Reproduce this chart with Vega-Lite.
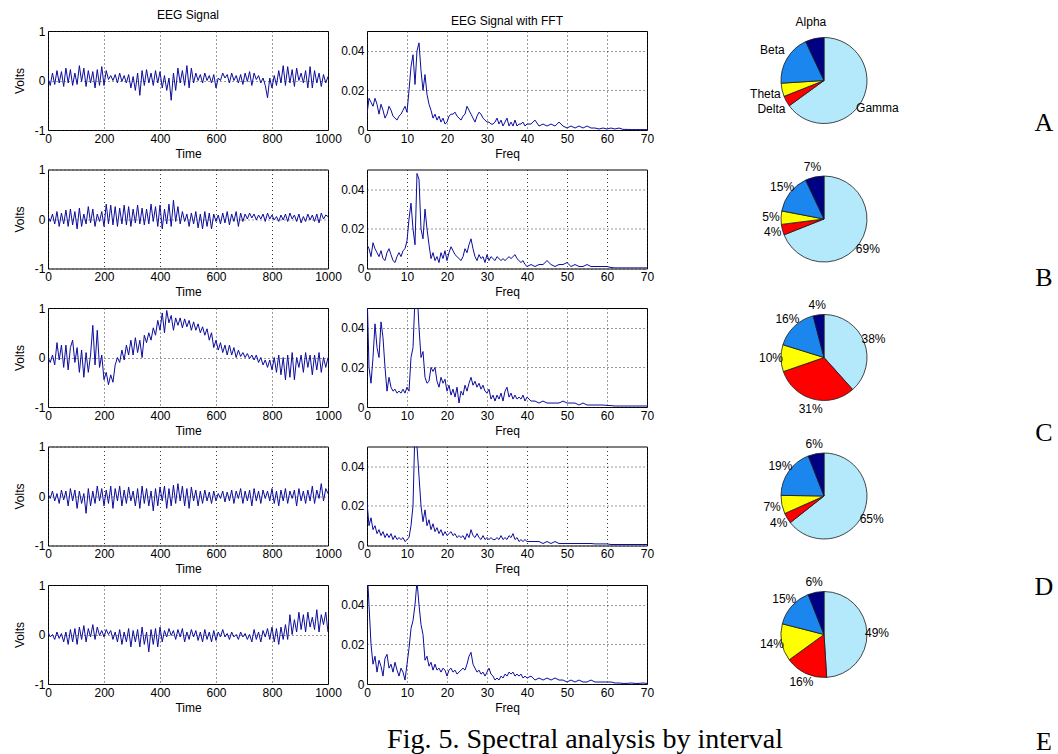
{
"$schema":"https://vega.github.io/schema/vega-lite/v6.json",
"background":"white",
"padding":{"left":12,"top":8,"right":0,"bottom":0},
"config":{
 "font":"Liberation Sans",
 "view":{"stroke":"#000","strokeWidth":1},
 "axis":{"labelFont":"Liberation Sans","labelFontSize":12,"labelColor":"#000","titleFont":"Liberation Sans","titleFontSize":12,"titleFontWeight":"normal","titleColor":"#000","domain":false,"ticks":false,"labelPadding":3,"grid":true,"gridColor":"#222","gridDash":[1,3],"gridOpacity":0.9,"gridWidth":1,"labelFlush":false,"labelOverlap":false},
 "axisX":{"titlePadding":4},
 "axisY":{"titlePadding":8},
 "title":{"font":"Liberation Sans","fontSize":12,"fontWeight":"normal","color":"#000"}
},
"datasets":{
"eegA":[{"t":0,"v":0.05},{"t":8,"v":-0.1},{"t":16,"v":0.15},{"t":24,"v":-0.08},{"t":32,"v":0.2},{"t":40,"v":-0.05},{"t":48,"v":0.18},{"t":56,"v":-0.12},{"t":64,"v":0.25},{"t":72,"v":-0.05},{"t":80,"v":0.22},{"t":88,"v":-0.1},{"t":96,"v":0.15},{"t":104,"v":-0.08},{"t":112,"v":0.3},{"t":120,"v":-0.02},{"t":128,"v":0.25},{"t":136,"v":-0.12},{"t":144,"v":0.2},{"t":152,"v":-0.05},{"t":160,"v":0.18},{"t":168,"v":-0.15},{"t":176,"v":0.22},{"t":184,"v":-0.1},{"t":192,"v":0.28},{"t":200,"v":-0.1},{"t":208,"v":0.2},{"t":216,"v":0.02},{"t":224,"v":0.1},{"t":232,"v":0.0},{"t":240,"v":0.12},{"t":248,"v":-0.05},{"t":256,"v":0.15},{"t":264,"v":-0.02},{"t":272,"v":0.1},{"t":280,"v":-0.05},{"t":288,"v":0.12},{"t":296,"v":-0.15},{"t":304,"v":0.08},{"t":312,"v":-0.2},{"t":320,"v":0.15},{"t":328,"v":-0.3},{"t":336,"v":0.2},{"t":344,"v":-0.1},{"t":352,"v":0.22},{"t":360,"v":-0.05},{"t":368,"v":0.15},{"t":376,"v":-0.1},{"t":384,"v":0.2},{"t":392,"v":-0.05},{"t":400,"v":0.18},{"t":408,"v":-0.15},{"t":416,"v":0.1},{"t":424,"v":-0.2},{"t":432,"v":0.05},{"t":440,"v":-0.4},{"t":448,"v":0.15},{"t":456,"v":-0.2},{"t":464,"v":0.25},{"t":472,"v":-0.05},{"t":480,"v":0.2},{"t":488,"v":-0.1},{"t":496,"v":0.3},{"t":504,"v":-0.15},{"t":512,"v":0.25},{"t":520,"v":-0.05},{"t":528,"v":0.15},{"t":536,"v":0.0},{"t":544,"v":0.12},{"t":552,"v":-0.05},{"t":560,"v":0.15},{"t":568,"v":0.0},{"t":576,"v":0.1},{"t":584,"v":-0.05},{"t":592,"v":0.12},{"t":600,"v":-0.15},{"t":608,"v":0.05},{"t":616,"v":0.0},{"t":624,"v":0.15},{"t":632,"v":0.05},{"t":640,"v":0.12},{"t":648,"v":-0.05},{"t":656,"v":0.15},{"t":664,"v":0.0},{"t":672,"v":0.1},{"t":680,"v":-0.05},{"t":688,"v":0.12},{"t":696,"v":-0.08},{"t":704,"v":0.15},{"t":712,"v":-0.02},{"t":720,"v":0.18},{"t":728,"v":-0.1},{"t":736,"v":0.15},{"t":744,"v":0.02},{"t":752,"v":0.1},{"t":760,"v":-0.05},{"t":768,"v":0.05},{"t":776,"v":-0.1},{"t":784,"v":-0.35},{"t":792,"v":0.05},{"t":800,"v":-0.15},{"t":808,"v":0.1},{"t":816,"v":-0.1},{"t":824,"v":0.2},{"t":832,"v":-0.05},{"t":840,"v":0.3},{"t":848,"v":-0.1},{"t":856,"v":0.28},{"t":864,"v":-0.05},{"t":872,"v":0.22},{"t":880,"v":-0.12},{"t":888,"v":0.25},{"t":896,"v":0.0},{"t":904,"v":0.15},{"t":912,"v":-0.05},{"t":920,"v":0.2},{"t":928,"v":-0.15},{"t":936,"v":0.28},{"t":944,"v":-0.15},{"t":952,"v":0.2},{"t":960,"v":-0.05},{"t":968,"v":0.15},{"t":976,"v":-0.12},{"t":984,"v":0.12},{"t":992,"v":-0.05},{"t":1000,"v":0.08}],
"eegB":[{"t":0,"v":0.05},{"t":8,"v":-0.05},{"t":16,"v":0.1},{"t":24,"v":-0.1},{"t":32,"v":0.15},{"t":40,"v":-0.15},{"t":48,"v":0.12},{"t":56,"v":-0.1},{"t":64,"v":0.18},{"t":72,"v":-0.15},{"t":80,"v":0.2},{"t":88,"v":-0.12},{"t":96,"v":0.15},{"t":104,"v":-0.2},{"t":112,"v":0.22},{"t":120,"v":-0.15},{"t":128,"v":0.1},{"t":136,"v":-0.1},{"t":144,"v":0.25},{"t":152,"v":-0.08},{"t":160,"v":0.2},{"t":168,"v":-0.15},{"t":176,"v":0.1},{"t":184,"v":-0.05},{"t":192,"v":0.15},{"t":200,"v":-0.15},{"t":208,"v":0.3},{"t":216,"v":-0.1},{"t":224,"v":0.28},{"t":232,"v":-0.12},{"t":240,"v":0.25},{"t":248,"v":-0.15},{"t":256,"v":0.22},{"t":264,"v":-0.1},{"t":272,"v":0.28},{"t":280,"v":-0.12},{"t":288,"v":0.25},{"t":296,"v":-0.15},{"t":304,"v":0.2},{"t":312,"v":-0.08},{"t":320,"v":0.28},{"t":328,"v":-0.1},{"t":336,"v":0.22},{"t":344,"v":-0.12},{"t":352,"v":0.2},{"t":360,"v":-0.1},{"t":368,"v":0.3},{"t":376,"v":-0.05},{"t":384,"v":0.25},{"t":392,"v":-0.15},{"t":400,"v":0.28},{"t":408,"v":-0.2},{"t":416,"v":0.2},{"t":424,"v":-0.1},{"t":432,"v":0.3},{"t":440,"v":-0.15},{"t":448,"v":0.38},{"t":456,"v":-0.05},{"t":464,"v":0.25},{"t":472,"v":-0.1},{"t":480,"v":0.15},{"t":488,"v":-0.05},{"t":496,"v":0.1},{"t":504,"v":-0.15},{"t":512,"v":0.12},{"t":520,"v":-0.1},{"t":528,"v":0.15},{"t":536,"v":-0.18},{"t":544,"v":0.1},{"t":552,"v":-0.2},{"t":560,"v":0.15},{"t":568,"v":-0.15},{"t":576,"v":0.12},{"t":584,"v":-0.2},{"t":592,"v":0.1},{"t":600,"v":-0.05},{"t":608,"v":0.08},{"t":616,"v":-0.1},{"t":624,"v":0.12},{"t":632,"v":-0.08},{"t":640,"v":0.15},{"t":648,"v":-0.12},{"t":656,"v":0.1},{"t":664,"v":-0.05},{"t":672,"v":0.15},{"t":680,"v":-0.15},{"t":688,"v":0.12},{"t":696,"v":-0.05},{"t":704,"v":0.1},{"t":712,"v":0.0},{"t":720,"v":0.12},{"t":728,"v":0.02},{"t":736,"v":0.1},{"t":744,"v":-0.02},{"t":752,"v":0.08},{"t":760,"v":0.0},{"t":768,"v":0.1},{"t":776,"v":-0.05},{"t":784,"v":0.12},{"t":792,"v":0.0},{"t":800,"v":0.08},{"t":808,"v":-0.02},{"t":816,"v":0.05},{"t":824,"v":-0.05},{"t":832,"v":0.08},{"t":840,"v":-0.02},{"t":848,"v":0.1},{"t":856,"v":-0.05},{"t":864,"v":0.12},{"t":872,"v":0.0},{"t":880,"v":0.08},{"t":888,"v":-0.05},{"t":896,"v":0.1},{"t":904,"v":-0.08},{"t":912,"v":0.05},{"t":920,"v":-0.05},{"t":928,"v":0.1},{"t":936,"v":-0.02},{"t":944,"v":0.08},{"t":952,"v":-0.05},{"t":960,"v":0.1},{"t":968,"v":-0.08},{"t":976,"v":0.12},{"t":984,"v":0.0},{"t":992,"v":0.08},{"t":1000,"v":0.05}],
"eegC":[{"t":0,"v":0.0},{"t":8,"v":-0.1},{"t":16,"v":0.05},{"t":24,"v":-0.15},{"t":32,"v":0.3},{"t":40,"v":-0.05},{"t":48,"v":0.25},{"t":56,"v":-0.2},{"t":64,"v":0.25},{"t":72,"v":-0.25},{"t":80,"v":0.2},{"t":88,"v":0.35},{"t":96,"v":-0.1},{"t":104,"v":0.2},{"t":112,"v":-0.3},{"t":120,"v":0.15},{"t":128,"v":-0.4},{"t":136,"v":0.1},{"t":144,"v":-0.3},{"t":152,"v":0.05},{"t":160,"v":0.65},{"t":168,"v":-0.15},{"t":176,"v":0.55},{"t":184,"v":-0.2},{"t":192,"v":0.05},{"t":200,"v":-0.45},{"t":208,"v":-0.3},{"t":216,"v":-0.55},{"t":224,"v":-0.35},{"t":232,"v":-0.5},{"t":240,"v":-0.15},{"t":248,"v":0.0},{"t":256,"v":-0.1},{"t":264,"v":0.15},{"t":272,"v":-0.05},{"t":280,"v":0.25},{"t":288,"v":0.05},{"t":296,"v":0.35},{"t":304,"v":0.05},{"t":312,"v":0.4},{"t":320,"v":0.1},{"t":328,"v":0.35},{"t":336,"v":0.0},{"t":344,"v":0.45},{"t":352,"v":0.3},{"t":360,"v":0.5},{"t":368,"v":0.35},{"t":376,"v":0.6},{"t":384,"v":0.45},{"t":392,"v":0.75},{"t":400,"v":0.55},{"t":408,"v":0.9},{"t":416,"v":0.5},{"t":424,"v":0.95},{"t":432,"v":0.7},{"t":440,"v":0.85},{"t":448,"v":0.55},{"t":456,"v":0.8},{"t":464,"v":0.65},{"t":472,"v":0.8},{"t":480,"v":0.6},{"t":488,"v":0.78},{"t":496,"v":0.62},{"t":504,"v":0.75},{"t":512,"v":0.55},{"t":520,"v":0.72},{"t":528,"v":0.55},{"t":536,"v":0.68},{"t":544,"v":0.5},{"t":552,"v":0.62},{"t":560,"v":0.45},{"t":568,"v":0.58},{"t":576,"v":0.35},{"t":584,"v":0.5},{"t":592,"v":0.2},{"t":600,"v":0.35},{"t":608,"v":0.15},{"t":616,"v":0.3},{"t":624,"v":0.1},{"t":632,"v":0.25},{"t":640,"v":0.05},{"t":648,"v":0.25},{"t":656,"v":0.05},{"t":664,"v":0.2},{"t":672,"v":0.0},{"t":680,"v":0.15},{"t":688,"v":0.02},{"t":696,"v":0.1},{"t":704,"v":0.0},{"t":712,"v":0.08},{"t":720,"v":-0.02},{"t":728,"v":0.05},{"t":736,"v":-0.05},{"t":744,"v":0.05},{"t":752,"v":-0.1},{"t":760,"v":0.0},{"t":768,"v":-0.15},{"t":776,"v":-0.05},{"t":784,"v":-0.2},{"t":792,"v":-0.05},{"t":800,"v":-0.25},{"t":808,"v":0.0},{"t":816,"v":-0.3},{"t":824,"v":0.05},{"t":832,"v":-0.35},{"t":840,"v":0.0},{"t":848,"v":-0.45},{"t":856,"v":0.05},{"t":864,"v":-0.4},{"t":872,"v":0.1},{"t":880,"v":-0.45},{"t":888,"v":0.0},{"t":896,"v":-0.2},{"t":904,"v":0.05},{"t":912,"v":-0.3},{"t":920,"v":0.1},{"t":928,"v":-0.2},{"t":936,"v":0.05},{"t":944,"v":-0.35},{"t":952,"v":0.05},{"t":960,"v":-0.25},{"t":968,"v":0.1},{"t":976,"v":-0.3},{"t":984,"v":0.0},{"t":992,"v":-0.2},{"t":1000,"v":0.0}],
"eegD":[{"t":0,"v":0.05},{"t":8,"v":-0.05},{"t":16,"v":0.1},{"t":24,"v":-0.1},{"t":32,"v":0.05},{"t":40,"v":-0.15},{"t":48,"v":0.12},{"t":56,"v":-0.08},{"t":64,"v":0.1},{"t":72,"v":-0.2},{"t":80,"v":0.15},{"t":88,"v":-0.1},{"t":96,"v":0.12},{"t":104,"v":-0.25},{"t":112,"v":0.1},{"t":120,"v":-0.15},{"t":128,"v":0.05},{"t":136,"v":-0.35},{"t":144,"v":0.15},{"t":152,"v":-0.2},{"t":160,"v":0.1},{"t":168,"v":-0.15},{"t":176,"v":0.2},{"t":184,"v":-0.1},{"t":192,"v":0.15},{"t":200,"v":-0.2},{"t":208,"v":0.12},{"t":216,"v":-0.15},{"t":224,"v":0.2},{"t":232,"v":-0.25},{"t":240,"v":0.15},{"t":248,"v":-0.1},{"t":256,"v":0.2},{"t":264,"v":-0.2},{"t":272,"v":0.12},{"t":280,"v":-0.15},{"t":288,"v":0.18},{"t":296,"v":-0.1},{"t":304,"v":0.1},{"t":312,"v":-0.2},{"t":320,"v":0.15},{"t":328,"v":-0.25},{"t":336,"v":0.2},{"t":344,"v":-0.15},{"t":352,"v":0.15},{"t":360,"v":-0.2},{"t":368,"v":0.1},{"t":376,"v":-0.3},{"t":384,"v":0.15},{"t":392,"v":-0.2},{"t":400,"v":0.18},{"t":408,"v":-0.1},{"t":416,"v":0.2},{"t":424,"v":-0.25},{"t":432,"v":0.15},{"t":440,"v":-0.2},{"t":448,"v":0.22},{"t":456,"v":-0.15},{"t":464,"v":0.25},{"t":472,"v":-0.1},{"t":480,"v":0.2},{"t":488,"v":-0.2},{"t":496,"v":0.15},{"t":504,"v":-0.25},{"t":512,"v":0.18},{"t":520,"v":-0.1},{"t":528,"v":0.12},{"t":536,"v":-0.2},{"t":544,"v":0.1},{"t":552,"v":-0.15},{"t":560,"v":0.12},{"t":568,"v":-0.1},{"t":576,"v":0.08},{"t":584,"v":-0.15},{"t":592,"v":0.1},{"t":600,"v":-0.1},{"t":608,"v":0.05},{"t":616,"v":-0.05},{"t":624,"v":0.1},{"t":632,"v":-0.12},{"t":640,"v":0.08},{"t":648,"v":-0.1},{"t":656,"v":0.12},{"t":664,"v":-0.15},{"t":672,"v":0.1},{"t":680,"v":-0.05},{"t":688,"v":0.15},{"t":696,"v":-0.15},{"t":704,"v":0.1},{"t":712,"v":-0.1},{"t":720,"v":0.12},{"t":728,"v":-0.2},{"t":736,"v":0.15},{"t":744,"v":-0.1},{"t":752,"v":0.1},{"t":760,"v":-0.15},{"t":768,"v":0.12},{"t":776,"v":-0.05},{"t":784,"v":0.1},{"t":792,"v":-0.1},{"t":800,"v":0.15},{"t":808,"v":-0.15},{"t":816,"v":0.1},{"t":824,"v":-0.2},{"t":832,"v":0.12},{"t":840,"v":-0.1},{"t":848,"v":0.15},{"t":856,"v":-0.15},{"t":864,"v":0.1},{"t":872,"v":-0.05},{"t":880,"v":0.12},{"t":888,"v":-0.2},{"t":896,"v":0.15},{"t":904,"v":-0.1},{"t":912,"v":0.1},{"t":920,"v":-0.15},{"t":928,"v":0.12},{"t":936,"v":-0.1},{"t":944,"v":0.2},{"t":952,"v":-0.15},{"t":960,"v":0.12},{"t":968,"v":-0.05},{"t":976,"v":0.25},{"t":984,"v":-0.1},{"t":992,"v":0.15},{"t":1000,"v":0.05}],
"eegE":[{"t":0,"v":0.05},{"t":8,"v":-0.05},{"t":16,"v":0.0},{"t":24,"v":-0.1},{"t":32,"v":0.05},{"t":40,"v":-0.08},{"t":48,"v":0.02},{"t":56,"v":-0.15},{"t":64,"v":0.05},{"t":72,"v":-0.2},{"t":80,"v":0.1},{"t":88,"v":-0.15},{"t":96,"v":0.12},{"t":104,"v":-0.2},{"t":112,"v":0.15},{"t":120,"v":-0.1},{"t":128,"v":0.18},{"t":136,"v":-0.15},{"t":144,"v":0.12},{"t":152,"v":-0.05},{"t":160,"v":0.2},{"t":168,"v":-0.1},{"t":176,"v":0.15},{"t":184,"v":-0.02},{"t":192,"v":0.08},{"t":200,"v":-0.05},{"t":208,"v":0.1},{"t":216,"v":0.0},{"t":224,"v":0.08},{"t":232,"v":-0.1},{"t":240,"v":0.05},{"t":248,"v":-0.15},{"t":256,"v":0.1},{"t":264,"v":-0.2},{"t":272,"v":0.05},{"t":280,"v":-0.15},{"t":288,"v":0.12},{"t":296,"v":-0.25},{"t":304,"v":0.08},{"t":312,"v":-0.15},{"t":320,"v":0.1},{"t":328,"v":-0.25},{"t":336,"v":0.15},{"t":344,"v":-0.2},{"t":352,"v":0.05},{"t":360,"v":-0.35},{"t":368,"v":0.1},{"t":376,"v":-0.2},{"t":384,"v":0.12},{"t":392,"v":-0.25},{"t":400,"v":0.15},{"t":408,"v":-0.15},{"t":416,"v":0.08},{"t":424,"v":-0.05},{"t":432,"v":0.12},{"t":440,"v":-0.02},{"t":448,"v":0.08},{"t":456,"v":-0.1},{"t":464,"v":0.1},{"t":472,"v":-0.05},{"t":480,"v":0.12},{"t":488,"v":-0.15},{"t":496,"v":0.05},{"t":504,"v":-0.1},{"t":512,"v":0.1},{"t":520,"v":-0.05},{"t":528,"v":0.08},{"t":536,"v":-0.12},{"t":544,"v":0.05},{"t":552,"v":-0.15},{"t":560,"v":0.1},{"t":568,"v":-0.1},{"t":576,"v":0.05},{"t":584,"v":-0.15},{"t":592,"v":0.08},{"t":600,"v":-0.12},{"t":608,"v":0.05},{"t":616,"v":-0.05},{"t":624,"v":0.1},{"t":632,"v":-0.05},{"t":640,"v":0.02},{"t":648,"v":-0.1},{"t":656,"v":0.05},{"t":664,"v":-0.05},{"t":672,"v":0.0},{"t":680,"v":-0.1},{"t":688,"v":0.05},{"t":696,"v":-0.05},{"t":704,"v":0.02},{"t":712,"v":-0.1},{"t":720,"v":0.0},{"t":728,"v":-0.15},{"t":736,"v":0.1},{"t":744,"v":-0.1},{"t":752,"v":0.05},{"t":760,"v":-0.15},{"t":768,"v":0.08},{"t":776,"v":-0.05},{"t":784,"v":0.12},{"t":792,"v":-0.1},{"t":800,"v":0.15},{"t":808,"v":-0.15},{"t":816,"v":0.12},{"t":824,"v":-0.2},{"t":832,"v":0.15},{"t":840,"v":-0.1},{"t":848,"v":0.2},{"t":856,"v":-0.1},{"t":864,"v":0.4},{"t":872,"v":0.0},{"t":880,"v":0.3},{"t":888,"v":0.05},{"t":896,"v":0.45},{"t":904,"v":0.1},{"t":912,"v":0.4},{"t":920,"v":0.05},{"t":928,"v":0.45},{"t":936,"v":0.15},{"t":944,"v":0.35},{"t":952,"v":0.1},{"t":960,"v":0.5},{"t":968,"v":0.05},{"t":976,"v":0.4},{"t":984,"v":0.2},{"t":992,"v":0.45},{"t":1000,"v":0.05}],
"fftA":[{"f":0,"p":0.008},{"f":0.5,"p":0.016},{"f":1,"p":0.014},{"f":1.5,"p":0.012},{"f":2,"p":0.016},{"f":2.5,"p":0.013},{"f":3,"p":0.008},{"f":3.5,"p":0.013},{"f":4,"p":0.01},{"f":4.5,"p":0.006},{"f":5,"p":0.008},{"f":5.5,"p":0.012},{"f":6,"p":0.01},{"f":6.5,"p":0.007},{"f":7,"p":0.006},{"f":7.5,"p":0.005},{"f":8,"p":0.007},{"f":8.5,"p":0.008},{"f":9,"p":0.01},{"f":9.5,"p":0.012},{"f":10,"p":0.009},{"f":10.5,"p":0.02},{"f":11,"p":0.032},{"f":11.5,"p":0.038},{"f":12,"p":0.023},{"f":12.5,"p":0.04},{"f":13,"p":0.044},{"f":13.5,"p":0.03},{"f":14,"p":0.02},{"f":14.5,"p":0.028},{"f":15,"p":0.018},{"f":15.5,"p":0.013},{"f":16,"p":0.01},{"f":16.5,"p":0.006},{"f":17,"p":0.008},{"f":17.5,"p":0.005},{"f":18,"p":0.007},{"f":18.5,"p":0.004},{"f":19,"p":0.006},{"f":19.5,"p":0.003},{"f":20,"p":0.004},{"f":20.5,"p":0.007},{"f":21,"p":0.008},{"f":21.5,"p":0.008},{"f":22,"p":0.009},{"f":22.5,"p":0.007},{"f":23,"p":0.006},{"f":23.5,"p":0.005},{"f":24,"p":0.007},{"f":24.5,"p":0.008},{"f":25,"p":0.012},{"f":25.5,"p":0.01},{"f":26,"p":0.008},{"f":26.5,"p":0.006},{"f":27,"p":0.004},{"f":27.5,"p":0.007},{"f":28,"p":0.009},{"f":28.5,"p":0.008},{"f":29,"p":0.006},{"f":29.5,"p":0.005},{"f":30,"p":0.004},{"f":30.5,"p":0.004},{"f":31,"p":0.003},{"f":31.5,"p":0.003},{"f":32,"p":0.004},{"f":32.5,"p":0.006},{"f":33,"p":0.003},{"f":33.5,"p":0.005},{"f":34,"p":0.002},{"f":34.5,"p":0.004},{"f":35,"p":0.006},{"f":35.5,"p":0.002},{"f":36,"p":0.004},{"f":36.5,"p":0.002},{"f":37,"p":0.005},{"f":37.5,"p":0.002},{"f":38,"p":0.003},{"f":38.5,"p":0.003},{"f":39,"p":0.004},{"f":39.5,"p":0.002},{"f":40,"p":0.003},{"f":41,"p":0.003},{"f":42,"p":0.005},{"f":43,"p":0.002},{"f":44,"p":0.003},{"f":45,"p":0.002},{"f":46,"p":0.003},{"f":47,"p":0.002},{"f":48,"p":0.004},{"f":49,"p":0.002},{"f":50,"p":0.001},{"f":51,"p":0.002},{"f":52,"p":0.001},{"f":53,"p":0.002},{"f":54,"p":0.001},{"f":55,"p":0.002},{"f":56,"p":0.001},{"f":57,"p":0.001},{"f":58,"p":0.0005},{"f":59,"p":0.001},{"f":60,"p":0.0005},{"f":61,"p":0.001},{"f":62,"p":0.0005},{"f":63,"p":0.001},{"f":64,"p":0.0003},{"f":65,"p":0.0003},{"f":66,"p":0.0002},{"f":67,"p":0.0002},{"f":68,"p":0.0002},{"f":69,"p":0.0002},{"f":70,"p":0.0002}],
"fftB":[{"f":0,"p":0.012},{"f":0.5,"p":0.01},{"f":1,"p":0.006},{"f":1.5,"p":0.013},{"f":2,"p":0.01},{"f":2.5,"p":0.008},{"f":3,"p":0.006},{"f":3.5,"p":0.009},{"f":4,"p":0.005},{"f":4.5,"p":0.004},{"f":5,"p":0.008},{"f":5.5,"p":0.01},{"f":6,"p":0.007},{"f":6.5,"p":0.004},{"f":7,"p":0.003},{"f":7.5,"p":0.006},{"f":8,"p":0.008},{"f":8.5,"p":0.006},{"f":9,"p":0.009},{"f":9.5,"p":0.01},{"f":10,"p":0.014},{"f":10.5,"p":0.025},{"f":11,"p":0.033},{"f":11.5,"p":0.02},{"f":12,"p":0.012},{"f":12.5,"p":0.048},{"f":13,"p":0.045},{"f":13.5,"p":0.02},{"f":14,"p":0.015},{"f":14.5,"p":0.03},{"f":15,"p":0.02},{"f":15.5,"p":0.012},{"f":16,"p":0.005},{"f":16.5,"p":0.008},{"f":17,"p":0.004},{"f":17.5,"p":0.006},{"f":18,"p":0.003},{"f":18.5,"p":0.008},{"f":19,"p":0.005},{"f":19.5,"p":0.009},{"f":20,"p":0.004},{"f":20.5,"p":0.008},{"f":21,"p":0.011},{"f":21.5,"p":0.009},{"f":22,"p":0.007},{"f":22.5,"p":0.006},{"f":23,"p":0.005},{"f":23.5,"p":0.004},{"f":24,"p":0.006},{"f":24.5,"p":0.01},{"f":25,"p":0.008},{"f":25.5,"p":0.012},{"f":26,"p":0.015},{"f":26.5,"p":0.01},{"f":27,"p":0.006},{"f":27.5,"p":0.004},{"f":28,"p":0.007},{"f":28.5,"p":0.005},{"f":29,"p":0.006},{"f":29.5,"p":0.003},{"f":30,"p":0.007},{"f":30.5,"p":0.004},{"f":31,"p":0.006},{"f":31.5,"p":0.005},{"f":32,"p":0.004},{"f":32.5,"p":0.006},{"f":33,"p":0.005},{"f":33.5,"p":0.004},{"f":34,"p":0.005},{"f":34.5,"p":0.004},{"f":35,"p":0.005},{"f":35.5,"p":0.006},{"f":36,"p":0.005},{"f":36.5,"p":0.006},{"f":37,"p":0.007},{"f":37.5,"p":0.005},{"f":38,"p":0.004},{"f":38.5,"p":0.003},{"f":39,"p":0.004},{"f":39.5,"p":0.002},{"f":40,"p":0.001},{"f":41,"p":0.002},{"f":42,"p":0.001},{"f":43,"p":0.002},{"f":44,"p":0.002},{"f":45,"p":0.004},{"f":46,"p":0.002},{"f":47,"p":0.001},{"f":48,"p":0.002},{"f":49,"p":0.002},{"f":50,"p":0.003},{"f":51,"p":0.001},{"f":52,"p":0.002},{"f":53,"p":0.001},{"f":54,"p":0.001},{"f":55,"p":0.002},{"f":56,"p":0.001},{"f":57,"p":0.001},{"f":58,"p":0.001},{"f":59,"p":0.001},{"f":60,"p":0.001},{"f":61,"p":0.0005},{"f":62,"p":0.0003},{"f":63,"p":0.0003},{"f":64,"p":0.0003},{"f":65,"p":0.0003},{"f":66,"p":0.0003},{"f":67,"p":0.0003},{"f":68,"p":0.0003},{"f":69,"p":0.0003},{"f":70,"p":0.0003}],
"fftC":[{"f":0,"p":0.06},{"f":0.5,"p":0.02},{"f":1,"p":0.012},{"f":1.5,"p":0.025},{"f":2,"p":0.042},{"f":2.5,"p":0.03},{"f":3,"p":0.025},{"f":3.5,"p":0.043},{"f":4,"p":0.035},{"f":4.5,"p":0.02},{"f":5,"p":0.008},{"f":5.5,"p":0.015},{"f":6,"p":0.01},{"f":6.5,"p":0.008},{"f":7,"p":0.009},{"f":7.5,"p":0.007},{"f":8,"p":0.008},{"f":8.5,"p":0.007},{"f":9,"p":0.009},{"f":9.5,"p":0.007},{"f":10,"p":0.01},{"f":10.5,"p":0.008},{"f":11,"p":0.025},{"f":11.5,"p":0.03},{"f":12,"p":0.055},{"f":12.5,"p":0.06},{"f":13,"p":0.04},{"f":13.5,"p":0.025},{"f":14,"p":0.028},{"f":14.5,"p":0.015},{"f":15,"p":0.012},{"f":15.5,"p":0.013},{"f":16,"p":0.02},{"f":16.5,"p":0.018},{"f":17,"p":0.02},{"f":17.5,"p":0.013},{"f":18,"p":0.01},{"f":18.5,"p":0.015},{"f":19,"p":0.012},{"f":19.5,"p":0.014},{"f":20,"p":0.008},{"f":20.5,"p":0.011},{"f":21,"p":0.006},{"f":21.5,"p":0.009},{"f":22,"p":0.005},{"f":22.5,"p":0.01},{"f":23,"p":0.002},{"f":23.5,"p":0.008},{"f":24,"p":0.006},{"f":24.5,"p":0.011},{"f":25,"p":0.008},{"f":25.5,"p":0.012},{"f":26,"p":0.015},{"f":26.5,"p":0.011},{"f":27,"p":0.013},{"f":27.5,"p":0.01},{"f":28,"p":0.012},{"f":28.5,"p":0.009},{"f":29,"p":0.011},{"f":29.5,"p":0.008},{"f":30,"p":0.007},{"f":30.5,"p":0.009},{"f":31,"p":0.004},{"f":31.5,"p":0.006},{"f":32,"p":0.003},{"f":32.5,"p":0.006},{"f":33,"p":0.004},{"f":33.5,"p":0.007},{"f":34,"p":0.003},{"f":34.5,"p":0.008},{"f":35,"p":0.01},{"f":35.5,"p":0.005},{"f":36,"p":0.007},{"f":36.5,"p":0.004},{"f":37,"p":0.006},{"f":37.5,"p":0.004},{"f":38,"p":0.005},{"f":38.5,"p":0.004},{"f":39,"p":0.006},{"f":39.5,"p":0.003},{"f":40,"p":0.005},{"f":41,"p":0.003},{"f":42,"p":0.003},{"f":43,"p":0.002},{"f":44,"p":0.003},{"f":45,"p":0.002},{"f":46,"p":0.002},{"f":47,"p":0.002},{"f":48,"p":0.002},{"f":49,"p":0.003},{"f":50,"p":0.002},{"f":51,"p":0.002},{"f":52,"p":0.002},{"f":53,"p":0.001},{"f":54,"p":0.002},{"f":55,"p":0.001},{"f":56,"p":0.001},{"f":57,"p":0.001},{"f":58,"p":0.001},{"f":59,"p":0.001},{"f":60,"p":0.0008},{"f":61,"p":0.0007},{"f":62,"p":0.0005},{"f":63,"p":0.0005},{"f":64,"p":0.0005},{"f":65,"p":0.0005},{"f":66,"p":0.0005},{"f":67,"p":0.0005},{"f":68,"p":0.0005},{"f":69,"p":0.0005},{"f":70,"p":0.0005}],
"fftD":[{"f":0,"p":0.022},{"f":0.5,"p":0.01},{"f":1,"p":0.014},{"f":1.5,"p":0.008},{"f":2,"p":0.01},{"f":2.5,"p":0.006},{"f":3,"p":0.008},{"f":3.5,"p":0.005},{"f":4,"p":0.007},{"f":4.5,"p":0.004},{"f":5,"p":0.006},{"f":5.5,"p":0.004},{"f":6,"p":0.006},{"f":6.5,"p":0.003},{"f":7,"p":0.005},{"f":7.5,"p":0.003},{"f":8,"p":0.004},{"f":8.5,"p":0.003},{"f":9,"p":0.004},{"f":9.5,"p":0.002},{"f":10,"p":0.003},{"f":10.5,"p":0.004},{"f":11,"p":0.01},{"f":11.5,"p":0.02},{"f":12,"p":0.06},{"f":12.5,"p":0.05},{"f":13,"p":0.035},{"f":13.5,"p":0.02},{"f":14,"p":0.012},{"f":14.5,"p":0.018},{"f":15,"p":0.01},{"f":15.5,"p":0.013},{"f":16,"p":0.008},{"f":16.5,"p":0.011},{"f":17,"p":0.007},{"f":17.5,"p":0.009},{"f":18,"p":0.006},{"f":18.5,"p":0.008},{"f":19,"p":0.005},{"f":19.5,"p":0.007},{"f":20,"p":0.005},{"f":20.5,"p":0.006},{"f":21,"p":0.007},{"f":21.5,"p":0.005},{"f":22,"p":0.006},{"f":22.5,"p":0.004},{"f":23,"p":0.005},{"f":23.5,"p":0.004},{"f":24,"p":0.005},{"f":24.5,"p":0.003},{"f":25,"p":0.006},{"f":25.5,"p":0.004},{"f":26,"p":0.008},{"f":26.5,"p":0.005},{"f":27,"p":0.004},{"f":27.5,"p":0.006},{"f":28,"p":0.004},{"f":28.5,"p":0.003},{"f":29,"p":0.005},{"f":29.5,"p":0.003},{"f":30,"p":0.004},{"f":30.5,"p":0.003},{"f":31,"p":0.004},{"f":31.5,"p":0.003},{"f":32,"p":0.003},{"f":32.5,"p":0.004},{"f":33,"p":0.003},{"f":33.5,"p":0.005},{"f":34,"p":0.003},{"f":34.5,"p":0.004},{"f":35,"p":0.003},{"f":35.5,"p":0.005},{"f":36,"p":0.004},{"f":36.5,"p":0.006},{"f":37,"p":0.003},{"f":37.5,"p":0.004},{"f":38,"p":0.002},{"f":38.5,"p":0.003},{"f":39,"p":0.002},{"f":39.5,"p":0.003},{"f":40,"p":0.002},{"f":41,"p":0.002},{"f":42,"p":0.002},{"f":43,"p":0.002},{"f":44,"p":0.001},{"f":45,"p":0.002},{"f":46,"p":0.001},{"f":47,"p":0.002},{"f":48,"p":0.001},{"f":49,"p":0.001},{"f":50,"p":0.001},{"f":51,"p":0.001},{"f":52,"p":0.001},{"f":53,"p":0.001},{"f":54,"p":0.001},{"f":55,"p":0.001},{"f":56,"p":0.001},{"f":57,"p":0.0008},{"f":58,"p":0.0008},{"f":59,"p":0.0008},{"f":60,"p":0.0008},{"f":61,"p":0.0005},{"f":62,"p":0.0005},{"f":63,"p":0.0005},{"f":64,"p":0.0005},{"f":65,"p":0.0005},{"f":66,"p":0.0005},{"f":67,"p":0.0005},{"f":68,"p":0.0005},{"f":69,"p":0.0005},{"f":70,"p":0.0005}],
"fftE":[{"f":0,"p":0.06},{"f":0.5,"p":0.04},{"f":1,"p":0.02},{"f":1.5,"p":0.01},{"f":2,"p":0.014},{"f":2.5,"p":0.006},{"f":3,"p":0.012},{"f":3.5,"p":0.009},{"f":4,"p":0.004},{"f":4.5,"p":0.013},{"f":5,"p":0.015},{"f":5.5,"p":0.008},{"f":6,"p":0.01},{"f":6.5,"p":0.006},{"f":7,"p":0.011},{"f":7.5,"p":0.007},{"f":8,"p":0.004},{"f":8.5,"p":0.008},{"f":9,"p":0.006},{"f":9.5,"p":0.002},{"f":10,"p":0.01},{"f":10.5,"p":0.018},{"f":11,"p":0.028},{"f":11.5,"p":0.032},{"f":12,"p":0.04},{"f":12.5,"p":0.052},{"f":13,"p":0.04},{"f":13.5,"p":0.03},{"f":14,"p":0.025},{"f":14.5,"p":0.012},{"f":15,"p":0.014},{"f":15.5,"p":0.009},{"f":16,"p":0.011},{"f":16.5,"p":0.007},{"f":17,"p":0.01},{"f":17.5,"p":0.007},{"f":18,"p":0.008},{"f":18.5,"p":0.006},{"f":19,"p":0.008},{"f":19.5,"p":0.007},{"f":20,"p":0.004},{"f":20.5,"p":0.007},{"f":21,"p":0.008},{"f":21.5,"p":0.006},{"f":22,"p":0.007},{"f":22.5,"p":0.005},{"f":23,"p":0.006},{"f":23.5,"p":0.007},{"f":24,"p":0.008},{"f":24.5,"p":0.007},{"f":25,"p":0.01},{"f":25.5,"p":0.014},{"f":26,"p":0.016},{"f":26.5,"p":0.01},{"f":27,"p":0.008},{"f":27.5,"p":0.006},{"f":28,"p":0.007},{"f":28.5,"p":0.005},{"f":29,"p":0.006},{"f":29.5,"p":0.004},{"f":30,"p":0.006},{"f":30.5,"p":0.008},{"f":31,"p":0.005},{"f":31.5,"p":0.004},{"f":32,"p":0.002},{"f":32.5,"p":0.003},{"f":33,"p":0.002},{"f":33.5,"p":0.004},{"f":34,"p":0.003},{"f":34.5,"p":0.005},{"f":35,"p":0.004},{"f":35.5,"p":0.006},{"f":36,"p":0.005},{"f":36.5,"p":0.006},{"f":37,"p":0.004},{"f":37.5,"p":0.005},{"f":38,"p":0.004},{"f":38.5,"p":0.005},{"f":39,"p":0.003},{"f":39.5,"p":0.004},{"f":40,"p":0.003},{"f":41,"p":0.004},{"f":42,"p":0.002},{"f":43,"p":0.003},{"f":44,"p":0.002},{"f":45,"p":0.003},{"f":46,"p":0.002},{"f":47,"p":0.003},{"f":48,"p":0.002},{"f":49,"p":0.002},{"f":50,"p":0.001},{"f":51,"p":0.002},{"f":52,"p":0.001},{"f":53,"p":0.002},{"f":54,"p":0.001},{"f":55,"p":0.001},{"f":56,"p":0.002},{"f":57,"p":0.001},{"f":58,"p":0.001},{"f":59,"p":0.001},{"f":60,"p":0.001},{"f":61,"p":0.001},{"f":62,"p":0.0005},{"f":63,"p":0.0005},{"f":64,"p":0.0003},{"f":65,"p":0.0003},{"f":66,"p":0.0005},{"f":67,"p":0.0003},{"f":68,"p":0.0003},{"f":69,"p":0.0005},{"f":70,"p":0.0003}],
"pieA":[{"band":"Gamma","k":1,"pct":65,"lab":"Gamma"},{"band":"Delta","k":2,"pct":4,"lab":"Delta"},{"band":"Theta","k":3,"pct":5,"lab":"Theta"},{"band":"Beta","k":4,"pct":19,"lab":"Beta"},{"band":"Alpha","k":5,"pct":7,"lab":"Alpha"}],
"pieB":[{"band":"Gamma","k":1,"pct":69,"lab":"69%"},{"band":"Delta","k":2,"pct":4,"lab":"4%"},{"band":"Theta","k":3,"pct":5,"lab":"5%"},{"band":"Beta","k":4,"pct":15,"lab":"15%"},{"band":"Alpha","k":5,"pct":7,"lab":"7%"}],
"pieC":[{"band":"Gamma","k":1,"pct":38,"lab":"38%"},{"band":"Delta","k":2,"pct":31,"lab":"31%"},{"band":"Theta","k":3,"pct":10,"lab":"10%"},{"band":"Beta","k":4,"pct":16,"lab":"16%"},{"band":"Alpha","k":5,"pct":4,"lab":"4%"}],
"pieD":[{"band":"Gamma","k":1,"pct":65,"lab":"65%"},{"band":"Delta","k":2,"pct":4,"lab":"4%"},{"band":"Theta","k":3,"pct":7,"lab":"7%"},{"band":"Beta","k":4,"pct":19,"lab":"19%"},{"band":"Alpha","k":5,"pct":6,"lab":"6%"}],
"pieE":[{"band":"Gamma","k":1,"pct":49,"lab":"49%"},{"band":"Delta","k":2,"pct":16,"lab":"16%"},{"band":"Theta","k":3,"pct":14,"lab":"14%"},{"band":"Beta","k":4,"pct":15,"lab":"15%"},{"band":"Alpha","k":5,"pct":6,"lab":"6%"}],
"letters":[{"letter":"A"},{"letter":"B"},{"letter":"C"},{"letter":"D"},{"letter":"E"}]
},
"spacing":38,
"hconcat":[
{"bounds":"flush","columns":3,"spacing":{"row":39.5,"column":39},"concat":[
  {"data":{"name":"eegA"},"width":280,"height":99,"title":{"text":"EEG Signal","anchor":"middle","frame":"group","offset":3},
   "mark":{"type":"line","color":"#0c0c9c","strokeWidth":1,"clip":true},
   "encoding":{"x":{"field":"t","type":"quantitative","scale":{"domain":[0,1000],"nice":false},"axis":{"values":[0,200,400,600,800,1000],"format":"d","title":"Time"}},
    "y":{"field":"v","type":"quantitative","scale":{"domain":[-1,1],"nice":false},"axis":{"values":[-1,0,1],"labelExpr":"datum.value < 0 ? '-1' : datum.value > 0 ? '1' : '0'","title":"Volts"}}}},
  {"data":{"name":"fftA"},"width":280,"height":99,"title":{"text":"EEG Signal with FFT","anchor":"middle","frame":"group","offset":3},
   "mark":{"type":"line","color":"#0c0c9c","strokeWidth":1,"clip":true},
   "encoding":{"x":{"field":"f","type":"quantitative","scale":{"domain":[0,70],"nice":false},"axis":{"values":[0,10,20,30,40,50,60,70],"format":"d","title":"Freq"}},
    "y":{"field":"p","type":"quantitative","scale":{"domain":[0,0.05],"nice":false},"axis":{"values":[0,0.02,0.04],"format":".2~f","title":null}}}},
  {"data":{"name":"pieA"},"width":276,"height":99,"view":{"stroke":null},
   "encoding":{"theta":{"field":"pct","type":"quantitative","stack":true},"order":{"field":"k","type":"quantitative"},
    "color":{"field":"band","type":"nominal","scale":{"domain":["Gamma","Delta","Theta","Beta","Alpha"],"range":["#b4e9fb","#ff0000","#ffff00","#1a86ee","#000085"]},"legend":null}},
   "layer":[{"mark":{"type":"arc","outerRadius":43,"stroke":"#1a1a1a","strokeWidth":0.8}},
    {"mark":{"type":"text","radius":60,"fontSize":12,"fill":"#000"},"encoding":{"text":{"field":"lab"},"color":{"value":"#000"},"detail":{"field":"band"}}}]},
  {"data":{"name":"eegB"},"width":280,"height":99,
   "mark":{"type":"line","color":"#0c0c9c","strokeWidth":1,"clip":true},
   "encoding":{"x":{"field":"t","type":"quantitative","scale":{"domain":[0,1000],"nice":false},"axis":{"values":[0,200,400,600,800,1000],"format":"d","title":"Time"}},
    "y":{"field":"v","type":"quantitative","scale":{"domain":[-1,1],"nice":false},"axis":{"values":[-1,0,1],"labelExpr":"datum.value < 0 ? '-1' : datum.value > 0 ? '1' : '0'","title":"Volts"}}}},
  {"data":{"name":"fftB"},"width":280,"height":99,
   "mark":{"type":"line","color":"#0c0c9c","strokeWidth":1,"clip":true},
   "encoding":{"x":{"field":"f","type":"quantitative","scale":{"domain":[0,70],"nice":false},"axis":{"values":[0,10,20,30,40,50,60,70],"format":"d","title":"Freq"}},
    "y":{"field":"p","type":"quantitative","scale":{"domain":[0,0.05],"nice":false},"axis":{"values":[0,0.02,0.04],"format":".2~f","title":null}}}},
  {"data":{"name":"pieB"},"width":276,"height":99,"view":{"stroke":null},
   "encoding":{"theta":{"field":"pct","type":"quantitative","stack":true},"order":{"field":"k","type":"quantitative"},
    "color":{"field":"band","type":"nominal","scale":{"domain":["Gamma","Delta","Theta","Beta","Alpha"],"range":["#b4e9fb","#ff0000","#ffff00","#1a86ee","#000085"]},"legend":null}},
   "layer":[{"mark":{"type":"arc","outerRadius":43,"stroke":"#1a1a1a","strokeWidth":0.8}},
    {"mark":{"type":"text","radius":53,"fontSize":12,"fill":"#000"},"encoding":{"text":{"field":"lab"},"color":{"value":"#000"},"detail":{"field":"band"}}}]},
  {"data":{"name":"eegC"},"width":280,"height":99,
   "mark":{"type":"line","color":"#0c0c9c","strokeWidth":1,"clip":true},
   "encoding":{"x":{"field":"t","type":"quantitative","scale":{"domain":[0,1000],"nice":false},"axis":{"values":[0,200,400,600,800,1000],"format":"d","title":"Time"}},
    "y":{"field":"v","type":"quantitative","scale":{"domain":[-1,1],"nice":false},"axis":{"values":[-1,0,1],"labelExpr":"datum.value < 0 ? '-1' : datum.value > 0 ? '1' : '0'","title":"Volts"}}}},
  {"data":{"name":"fftC"},"width":280,"height":99,
   "mark":{"type":"line","color":"#0c0c9c","strokeWidth":1,"clip":true},
   "encoding":{"x":{"field":"f","type":"quantitative","scale":{"domain":[0,70],"nice":false},"axis":{"values":[0,10,20,30,40,50,60,70],"format":"d","title":"Freq"}},
    "y":{"field":"p","type":"quantitative","scale":{"domain":[0,0.05],"nice":false},"axis":{"values":[0,0.02,0.04],"format":".2~f","title":null}}}},
  {"data":{"name":"pieC"},"width":276,"height":99,"view":{"stroke":null},
   "encoding":{"theta":{"field":"pct","type":"quantitative","stack":true},"order":{"field":"k","type":"quantitative"},
    "color":{"field":"band","type":"nominal","scale":{"domain":["Gamma","Delta","Theta","Beta","Alpha"],"range":["#b4e9fb","#ff0000","#ffff00","#1a86ee","#000085"]},"legend":null}},
   "layer":[{"mark":{"type":"arc","outerRadius":43,"stroke":"#1a1a1a","strokeWidth":0.8}},
    {"mark":{"type":"text","radius":53,"fontSize":12,"fill":"#000"},"encoding":{"text":{"field":"lab"},"color":{"value":"#000"},"detail":{"field":"band"}}}]},
  {"data":{"name":"eegD"},"width":280,"height":99,
   "mark":{"type":"line","color":"#0c0c9c","strokeWidth":1,"clip":true},
   "encoding":{"x":{"field":"t","type":"quantitative","scale":{"domain":[0,1000],"nice":false},"axis":{"values":[0,200,400,600,800,1000],"format":"d","title":"Time"}},
    "y":{"field":"v","type":"quantitative","scale":{"domain":[-1,1],"nice":false},"axis":{"values":[-1,0,1],"labelExpr":"datum.value < 0 ? '-1' : datum.value > 0 ? '1' : '0'","title":"Volts"}}}},
  {"data":{"name":"fftD"},"width":280,"height":99,
   "mark":{"type":"line","color":"#0c0c9c","strokeWidth":1,"clip":true},
   "encoding":{"x":{"field":"f","type":"quantitative","scale":{"domain":[0,70],"nice":false},"axis":{"values":[0,10,20,30,40,50,60,70],"format":"d","title":"Freq"}},
    "y":{"field":"p","type":"quantitative","scale":{"domain":[0,0.05],"nice":false},"axis":{"values":[0,0.02,0.04],"format":".2~f","title":null}}}},
  {"data":{"name":"pieD"},"width":276,"height":99,"view":{"stroke":null},
   "encoding":{"theta":{"field":"pct","type":"quantitative","stack":true},"order":{"field":"k","type":"quantitative"},
    "color":{"field":"band","type":"nominal","scale":{"domain":["Gamma","Delta","Theta","Beta","Alpha"],"range":["#b4e9fb","#ff0000","#ffff00","#1a86ee","#000085"]},"legend":null}},
   "layer":[{"mark":{"type":"arc","outerRadius":43,"stroke":"#1a1a1a","strokeWidth":0.8}},
    {"mark":{"type":"text","radius":53,"fontSize":12,"fill":"#000"},"encoding":{"text":{"field":"lab"},"color":{"value":"#000"},"detail":{"field":"band"}}}]},
  {"data":{"name":"eegE"},"width":280,"height":99,
   "mark":{"type":"line","color":"#0c0c9c","strokeWidth":1,"clip":true},
   "encoding":{"x":{"field":"t","type":"quantitative","scale":{"domain":[0,1000],"nice":false},"axis":{"values":[0,200,400,600,800,1000],"format":"d","title":"Time"}},
    "y":{"field":"v","type":"quantitative","scale":{"domain":[-1,1],"nice":false},"axis":{"values":[-1,0,1],"labelExpr":"datum.value < 0 ? '-1' : datum.value > 0 ? '1' : '0'","title":"Volts"}}}},
  {"data":{"name":"fftE"},"width":280,"height":99,
   "title":{"text":"Fig. 5. Spectral analysis by interval","orient":"bottom","anchor":"middle","frame":"group","dx":78,"offset":13,"font":"Liberation Serif","fontSize":28,"fontWeight":"normal","color":"#000"},
   "mark":{"type":"line","color":"#0c0c9c","strokeWidth":1,"clip":true},
   "encoding":{"x":{"field":"f","type":"quantitative","scale":{"domain":[0,70],"nice":false},"axis":{"values":[0,10,20,30,40,50,60,70],"format":"d","title":"Freq"}},
    "y":{"field":"p","type":"quantitative","scale":{"domain":[0,0.05],"nice":false},"axis":{"values":[0,0.02,0.04],"format":".2~f","title":null}}}},
  {"data":{"name":"pieE"},"width":276,"height":99,"view":{"stroke":null},
   "encoding":{"theta":{"field":"pct","type":"quantitative","stack":true},"order":{"field":"k","type":"quantitative"},
    "color":{"field":"band","type":"nominal","scale":{"domain":["Gamma","Delta","Theta","Beta","Alpha"],"range":["#b4e9fb","#ff0000","#ffff00","#1a86ee","#000085"]},"legend":null}},
   "layer":[{"mark":{"type":"arc","outerRadius":43,"stroke":"#1a1a1a","strokeWidth":0.8}},
    {"mark":{"type":"text","radius":53,"fontSize":12,"fill":"#000"},"encoding":{"text":{"field":"lab"},"color":{"value":"#000"},"detail":{"field":"band"}}}]}
]},
{"data":{"name":"letters"},"width":88,"height":656,"view":{"stroke":null},
 "mark":{"type":"text","font":"Liberation Serif","fontSize":26,"color":"#000"},
 "encoding":{"y":{"field":"letter","type":"nominal","scale":{"type":"point","range":[92,711],"padding":0},"axis":null},"text":{"field":"letter"}}}
]
}
